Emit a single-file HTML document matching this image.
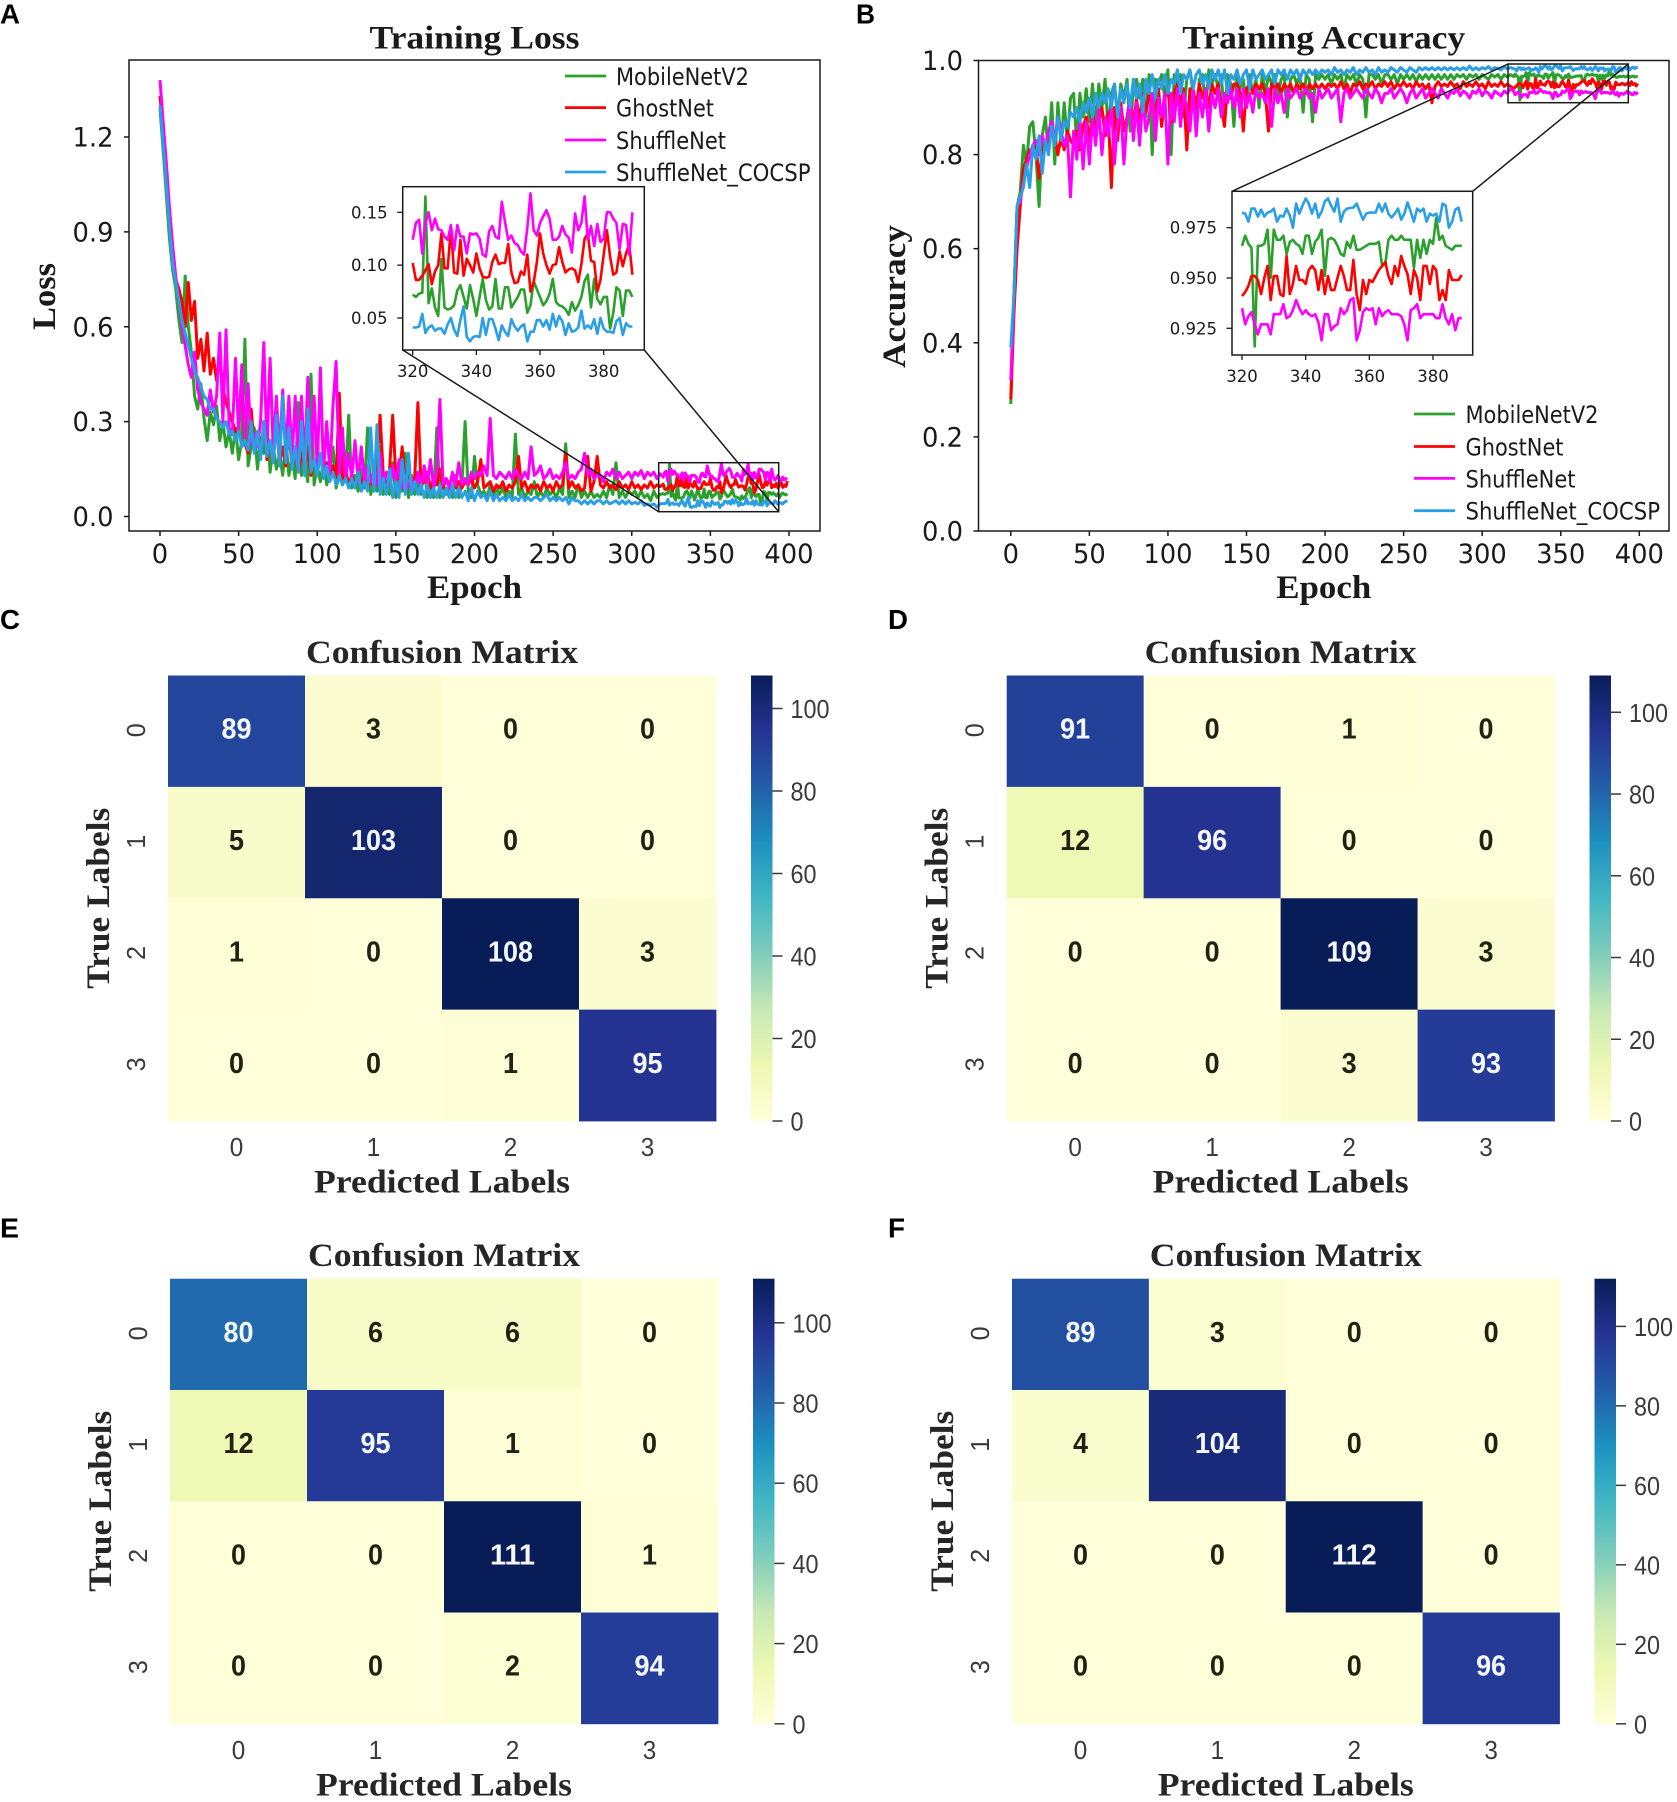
<!DOCTYPE html>
<html lang="en">
<head>
<meta charset="utf-8">
<title>Training curves and confusion matrices</title>
<style>
html,body{margin:0;padding:0;background:#fff}
svg{display:block}
</style>
</head>
<body>
<svg id="figure" xmlns="http://www.w3.org/2000/svg" width="1677" height="1802" viewBox="0 0 1677 1802">
<defs><linearGradient id="ylgnbu" x1="0" y1="1" x2="0" y2="0"></linearGradient></defs>
<rect x="0" y="0" width="1677" height="1802" fill="#fff"/>
</svg>
<script>
const seriesNames = ['MobileNetV2','GhostNet','ShuffleNet','ShuffleNet_COCSP'];
const seriesColors = ['#2ca02c','#ff0000','#ff00ff','#2b9fe6'];
const epochs = [];
for (let i = 0; i < 160; i++) epochs.push(i * 2);
for (let e = 320; e < 400; e++) epochs.push(e);

const epochTicks = [0,50,100,150,200,250,300,350,400];
const lossTicks = ['0.0','0.3','0.6','0.9','1.2'];
const accTicks = ['0.0','0.2','0.4','0.6','0.8','1.0'];
const insetEpochTicks = [320,340,360,380];
const lossInsetTicks = ['0.05','0.10','0.15'];
const accInsetTicks = ['0.925','0.950','0.975'];

const lossGreen = [
1.29,1.16,1.02,.88,.78,.72,.62,.55,.76,.6,.52,.38,.34,.42,.31,.24,.33,.29,.35,.24,
.3,.22,.27,.2,.28,.18,.24,.56,.16,.22,.28,.15,.25,.2,.3,.14,.22,.15,.2,.13,
.24,.13,.19,.12,.36,.13,.17,.11,.45,.1,.16,.11,.18,.1,.14,.22,.09,.13,.1,.12,
.32,.09,.13,.08,.15,.09,.28,.07,.12,.08,.22,.07,.11,.07,.17,.06,.14,.08,.2,.06,
.13,.07,.11,.07,.16,.06,.1,.06,.28,.06,.1,.07,.09,.06,.13,.06,.1,.3,.08,.06,
.19,.1,.07,.08,.06,.1,.06,.09,.07,.09,.06,.08,.06,.26,.07,.09,.06,.08,.07,.11,
.06,.08,.06,.09,.07,.08,.06,.09,.07,.23,.06,.08,.06,.1,.06,.08,.06,.08,.06,.07,
.06,.08,.06,.1,.07,.17,.06,.08,.06,.08,.07,.08,.06,.08,.06,.07,.05,.08,.06,.07,
.072,.07,.073,.074,.165,.064,.078,.06,.052,.106,.06,.058,.059,.062,.076,.081,.07,.059,.081,.068,
.052,.07,.087,.067,.058,.061,.087,.059,.059,.079,.079,.06,.065,.07,.077,.077,.055,.062,.085,.077,
.07,.062,.066,.073,.087,.065,.062,.061,.058,.053,.065,.057,.062,.07,.085,.091,.06,.087,.068,.063,
.07,.07,.04,.055,.079,.076,.052,.076,.076,.07,.075,.07,.065,.072,.06,.07,.074,.07,.068,.072];

const lossRed = [
1.33,1.22,1.1,.97,.85,.75,.72,.68,.6,.74,.62,.68,.5,.56,.46,.58,.45,.5,.43,.5,
.41,.36,.33,.3,.27,.26,.45,.23,.2,.34,.22,.26,.19,.3,.18,.24,.17,.3,.17,.22,
.16,.27,.15,.2,.14,.2,.15,.22,.13,.18,.14,.2,.13,.17,.12,.16,.11,.39,.11,.15,
.1,.13,.1,.12,.1,.14,.09,.12,.09,.16,.32,.13,.09,.15,.32,.12,.12,.22,.1,.15,
.09,.12,.36,.1,.11,.14,.09,.12,.1,.15,.09,.12,.1,.13,.09,.11,.09,.11,.1,.12,
.09,.11,.18,.09,.1,.11,.08,.1,.09,.11,.08,.1,.09,.11,.19,.09,.11,.08,.1,.09,
.1,.08,.11,.09,.1,.08,.11,.09,.1,.2,.09,.11,.09,.1,.08,.09,.19,.08,.11,.19,
.1,.09,.11,.09,.1,.085,.11,.09,.1,.085,.11,.09,.1,.085,.1,.09,.11,.09,.1,.095,
.102,.086,.086,.09,.095,.101,.082,.094,.1,.13,.097,.097,.135,.093,.092,.124,.09,.106,.1,.093,
.111,.097,.089,.088,.089,.103,.11,.101,.102,.102,.12,.093,.083,.084,.094,.091,.11,.075,.084,.103,
.13,.111,.1,.092,.1,.101,.117,.103,.093,.096,.097,.095,.084,.101,.125,.13,.104,.103,.075,.086,
.11,.133,.108,.091,.093,.113,.099,.111,.12,.091,.1,.095,.105,.09,.1,.11,.092,.1,.095,.112];

const lossMagenta = [
1.38,1.25,1.12,.98,.86,.76,.68,.6,.54,.48,.44,.52,.4,.36,.34,.32,.4,.33,.38,.58,
.3,.59,.28,.26,.5,.26,.48,.24,.42,.23,.26,.22,.3,.55,.22,.5,.21,.38,.2,.4,
.2,.38,.18,.38,.17,.38,.16,.44,.16,.38,.15,.47,.14,.3,.14,.35,.49,.13,.28,.12,
.2,.12,.24,.11,.22,.11,.16,.11,.15,.1,.2,.1,.14,.1,.16,.1,.18,.09,.13,.09,
.12,.09,.14,.09,.16,.1,.18,.09,.14,.37,.1,.12,.09,.14,.1,.17,.1,.12,.1,.14,
.12,.14,.13,.16,.13,.31,.13,.12,.14,.13,.12,.14,.12,.15,.13,.12,.14,.12,.22,.13,
.14,.16,.12,.13,.15,.12,.13,.12,.14,.17,.12,.13,.12,.14,.15,.2,.13,.15,.12,.13,
.13,.11,.14,.13,.15,.12,.14,.12,.13,.14,.12,.14,.13,.145,.12,.14,.13,.14,.12,.135,
.124,.14,.143,.111,.14,.15,.133,.144,.134,.133,.127,.124,.138,.114,.138,.127,.127,.111,.13,.129,
.13,.125,.11,.108,.132,.137,.127,.125,.16,.141,.124,.128,.121,.119,.113,.11,.135,.168,.133,.128,
.14,.146,.152,.144,.124,.124,.127,.137,.129,.126,.112,.149,.133,.14,.165,.124,.137,.118,.139,.122,
.125,.15,.15,.144,.14,.115,.139,.138,.11,.15,.125,.115,.12,.13,.118,.112,.125,.115,.12,.118];

const lossBlue = [
1.3,1.18,1.05,.92,.8,.74,.68,.62,.58,.54,.5,.46,.44,.41,.38,.37,.34,.34,.31,.3,
.28,.3,.26,.27,.24,.27,.22,.24,.21,.3,.2,.27,.18,.3,.19,.24,.17,.32,.16,.38,
.17,.28,.15,.22,.14,.3,.13,.34,.14,.18,.13,.2,.12,.16,.11,.14,.1,.13,.1,.12,
.09,.12,.09,.14,.08,.11,.08,.28,.08,.29,.07,.12,.07,.15,.06,.11,.06,.18,.07,.2,
.07,.11,.07,.1,.06,.1,.06,.09,.06,.1,.06,.09,.06,.1,.06,.09,.06,.08,.05,.09,
.05,.08,.06,.07,.05,.08,.05,.07,.05,.06,.05,.07,.05,.06,.05,.07,.05,.06,.05,.06,
.06,.05,.06,.07,.05,.06,.05,.06,.05,.06,.04,.06,.05,.05,.04,.05,.04,.05,.04,.05,
.05,.04,.05,.04,.045,.05,.04,.05,.04,.05,.04,.045,.04,.05,.035,.04,.035,.04,.03,.04,
.041,.041,.042,.054,.036,.041,.043,.038,.04,.04,.035,.044,.05,.039,.033,.048,.061,.032,.028,.032,
.033,.032,.05,.034,.049,.049,.04,.029,.043,.037,.033,.049,.042,.038,.042,.044,.028,.037,.037,.048,
.048,.042,.048,.039,.054,.042,.052,.047,.034,.045,.037,.038,.041,.057,.04,.043,.04,.049,.035,.05,
.04,.037,.037,.036,.047,.05,.034,.045,.042,.042,.04,.05,.045,.038,.042,.043,.04,.045,.048,.05];

const accGreen = [
.27,.5,.69,.72,.82,.78,.86,.87,.8,.69,.84,.88,.8,.91,.78,.91,.82,.91,.83,.92,
.93,.82,.93,.88,.94,.87,.95,.86,.95,.9,.96,.85,.93,.95,.88,.95,.92,.96,.85,.94,
.96,.92,.96,.88,.97,.8,.96,.95,.97,.92,.98,.8,.97,.95,.97,.88,.96,.98,.93,.85,
.96,.97,.9,.98,.95,.97,.94,.97,.87,.97,.95,.86,.97,.94,.96,.9,.97,.93,.96,.9,
.97,.93,.97,.95,.97,.92,.96,.97,.88,.96,.97,.95,.97,.89,.97,.96,.87,.97,.96,.97,
.96,.97,.95,.97,.96,.97,.94,.97,.96,.97,.95,.97,.96,.88,.97,.97,.96,.97,.95,.97,
.97,.96,.97,.95,.97,.96,.97,.96,.97,.955,.97,.96,.97,.96,.97,.96,.97,.96,.97,.96,
.97,.96,.97,.965,.97,.96,.97,.965,.97,.96,.97,.965,.96,.97,.965,.97,.96,.97,.965,.97,
.966,.971,.967,.965,.916,.966,.966,.967,.974,.95,.974,.969,.969,.971,.962,.968,.969,.967,.966,.962,
.971,.971,.962,.968,.97,.974,.951,.969,.97,.969,.966,.962,.961,.968,.965,.971,.964,.964,.965,.966,
.967,.967,.967,.968,.956,.957,.969,.971,.969,.969,.971,.969,.969,.969,.955,.969,.96,.969,.962,.969,
.967,.98,.969,.971,.966,.965,.964,.966,.966,.966,.967,.965,.966,.968,.964,.966,.967,.965,.966,.965];

const accRed = [
.28,.46,.6,.69,.77,.79,.81,.8,.82,.75,.8,.83,.82,.86,.84,.8,.84,.81,.85,.83,
.82,.85,.81,.86,.88,.83,.89,.85,.87,.9,.84,.89,.73,.9,.83,.91,.85,.88,.92,.86,
.92,.87,.93,.89,.93,.9,.88,.94,.86,.92,.94,.87,.93,.95,.9,.94,.81,.94,.94,.9,
.95,.92,.94,.9,.95,.93,.95,.9,.86,.95,.92,.95,.95,.93,.85,.94,.95,.93,.95,.94,
.95,.93,.85,.95,.94,.95,.93,.95,.94,.95,.93,.95,.94,.95,.93,.95,.94,.95,.94,.95,
.94,.95,.945,.95,.94,.955,.94,.95,.93,.95,.945,.955,.94,.95,.945,.955,.94,.95,.945,.955,
.945,.955,.94,.95,.945,.955,.945,.95,.94,.955,.945,.95,.94,.95,.91,.945,.955,.945,.95,.945,
.955,.945,.95,.94,.955,.945,.95,.945,.955,.945,.95,.94,.955,.945,.95,.945,.955,.945,.95,.945,
.941,.943,.946,.951,.951,.949,.942,.95,.956,.939,.951,.951,.942,.941,.961,.942,.947,.956,.949,.949,
.947,.954,.956,.954,.944,.954,.942,.951,.944,.944,.95,.956,.951,.944,.944,.959,.942,.934,.949,.942,
.949,.948,.951,.954,.956,.958,.951,.947,.956,.951,.961,.956,.952,.942,.954,.95,.939,.956,.956,.947,
.956,.954,.939,.944,.939,.954,.949,.949,.949,.9515,.95,.948,.951,.953,.947,.955,.949,.951,.946,.951];

const accMagenta = [
.32,.5,.69,.7,.74,.77,.8,.82,.83,.8,.84,.82,.85,.87,.83,.88,.85,.82,.84,.71,
.85,.79,.88,.77,.87,.78,.88,.82,.9,.8,.88,.84,.91,.78,.87,.9,.78,.88,.92,.83,
.91,.82,.92,.85,.88,.93,.83,.92,.88,.93,.78,.93,.87,.94,.86,.93,.9,.85,.94,.84,
.93,.88,.94,.85,.93,.9,.94,.88,.93,.91,.94,.9,.94,.88,.94,.9,.93,.89,.94,.92,
.93,.91,.94,.86,.94,.91,.93,.89,.94,.92,.93,.94,.92,.93,.94,.92,.93,.89,.94,.92,
.93,.94,.92,.93,.94,.87,.93,.94,.92,.93,.94,.93,.92,.94,.93,.92,.94,.93,.91,.93,
.93,.94,.92,.93,.94,.93,.91,.93,.94,.92,.93,.94,.92,.93,.94,.93,.92,.94,.93,.92,
.935,.93,.94,.925,.935,.93,.92,.935,.93,.94,.925,.935,.93,.92,.935,.93,.925,.935,.93,.94,
.935,.927,.931,.933,.927,.922,.927,.927,.927,.922,.932,.932,.932,.937,.93,.931,.934,.939,.935,.932,
.934,.932,.931,.932,.928,.919,.932,.932,.924,.926,.927,.935,.932,.934,.939,.94,.919,.924,.933,.935,
.934,.935,.927,.935,.931,.933,.934,.932,.932,.932,.931,.927,.919,.934,.935,.937,.93,.932,.932,.932,
.932,.93,.93,.937,.93,.927,.932,.924,.93,.93,.928,.931,.934,.93,.932,.928,.927,.932,.929,.933];

const accBlue = [
.39,.5,.69,.71,.73,.78,.73,.82,.79,.84,.76,.83,.8,.86,.82,.88,.83,.87,.86,.89,
.88,.9,.87,.91,.89,.92,.88,.93,.9,.93,.91,.94,.9,.95,.88,.94,.91,.95,.9,.96,
.92,.95,.89,.96,.93,.97,.92,.96,.94,.97,.93,.96,.95,.98,.93,.97,.96,.98,.94,.97,
.98,.95,.97,.94,.98,.96,.98,.95,.98,.93,.97,.96,.98,.95,.97,.98,.94,.98,.96,.97,
.98,.96,.97,.98,.95,.98,.97,.98,.96,.98,.97,.98,.96,.98,.97,.98,.97,.98,.97,.98,
.975,.98,.97,.985,.975,.98,.97,.98,.975,.985,.97,.98,.975,.985,.975,.98,.97,.985,.975,.98,
.975,.985,.98,.975,.985,.98,.975,.985,.98,.975,.985,.98,.985,.98,.985,.98,.985,.98,.985,.98,
.985,.98,.985,.98,.985,.98,.988,.98,.985,.98,.985,.982,.987,.98,.985,.983,.98,.987,.982,.985,
.9825,.982,.978,.9845,.9845,.9805,.984,.9805,.9825,.983,.9845,.978,.981,.9805,.9845,.981,.975,.987,.982,.986,
.9895,.987,.982,.987,.98,.983,.988,.9895,.986,.983,.9895,.978,.983,.9845,.9848,.985,.987,.983,.979,.982,
.9825,.9825,.9825,.987,.983,.987,.982,.98,.982,.9845,.979,.982,.9875,.983,.978,.9845,.983,.9845,.978,.982,
.981,.982,.978,.987,.986,.975,.978,.984,.985,.978,.983,.985,.982,.986,.98,.984,.986,.983,.985,.986];

const matrixC = [[89,3,0,0],[5,103,0,0],[1,0,108,3],[0,0,1,95]];
const matrixD = [[91,0,1,0],[12,96,0,0],[0,0,109,3],[0,0,3,93]];
const matrixE = [[80,6,6,0],[12,95,1,0],[0,0,111,1],[0,0,2,94]];
const matrixF = [[89,3,0,0],[4,104,0,0],[0,0,112,0],[0,0,0,96]];
const classLabels = ['0','1','2','3'];
const colorbarTicks = [0,20,40,60,80,100];

const ylgnbu = ['#ffffd9','#edf8b1','#c7e9b4','#7fcdbb','#41b6c4','#1d91c0','#225ea8','#253494','#081d58'];

const NS = 'http://www.w3.org/2000/svg';
const root = document.getElementById('figure');
const SERIF = '"Liberation Serif", serif';
const DEJAVU = '"DejaVu Sans", sans-serif';
const ARIAL = '"Liberation Sans", sans-serif';
const INK = '#1a1a1a';

function shape(parent, tag, attrs, name) {
  const el = document.createElementNS(NS, tag);
  for (const k in attrs) el.setAttribute(k, attrs[k]);
  
  
  parent.appendChild(el);
  return el;
}
function group(parent, name) {
  return shape(parent, 'g', {}, name);
}
function label(parent, str, x, y, size, o, name) {
  const a = {x: x, y: y, 'font-size': size, 'font-family': o.family, 'text-anchor': o.anchor || 'middle', fill: o.fill || INK};
  if (o.weight) a['font-weight'] = o.weight;
  if (o.len) { a.textLength = o.len; a.lengthAdjust = 'spacingAndGlyphs'; }
  if (o.rot) a.transform = 'rotate(' + o.rot + ' ' + x + ' ' + y + ')';
  const t = shape(parent, 'text', a, name);
  t.textContent = str;
  return t;
}
function linear(d0, d1, p0, p1) {
  return function (v) { return p0 + (v - d0) * (p1 - p0) / (d1 - d0); };
}
function textLen(str, digit, dot) {
  let w = 0;
  for (const c of String(str)) w += (c === '.' ? dot : digit);
  return w;
}
function seg(parent, x1, y1, x2, y2, name, w) {
  return shape(parent, 'line', {x1: x1, y1: y1, x2: x2, y2: y2, stroke: INK, 'stroke-width': w || 1.5}, name);
}
function polyline(parent, xs, ys, xScale, yScale, color, width, name) {
  const pts = xs.map(function (x, i) { return xScale(x).toFixed(1) + ',' + yScale(ys[i]).toFixed(1); }).join(' ');
  return shape(parent, 'polyline', {points: pts, fill: 'none', stroke: color, 'stroke-width': width, 'stroke-linejoin': 'round'}, name);
}

function drawLinePanel(c) {
  const g = group(root, c.id + '-panel');
  const x = linear(0, 400, c.x0, c.x400);
  const y = linear(c.yRef[0], c.yRef[1], c.yPx[0], c.yPx[1]);

  label(g, c.title, (c.left + c.right) / 2, 48.6, 33, {family: SERIF, weight: 'bold', len: c.titleLen}, c.id + '-title');
  label(g, 'Epoch', (c.left + c.right) / 2, 598, 33, {family: SERIF, weight: 'bold', len: 95}, c.id + '-x-axis-title');
  label(g, c.ylabel, c.ylabelX, 296.5, 33, {family: SERIF, weight: 'bold', len: c.ylabelLen, rot: -90}, c.id + '-y-axis-title');

  epochTicks.forEach(function (t) {
    seg(g, x(t), c.bottom, x(t), c.bottom + 5, c.id + '-x-tick');
    label(g, String(t), x(t), 563, 27, {family: DEJAVU, len: textLen(t, 16.4, 8.2)}, c.id + '-x-tick-label');
  });
  c.yTicks.forEach(function (t) {
    seg(g, c.left - 5, y(+t), c.left, y(+t), c.id + '-y-tick');
    label(g, t, c.left - 15.5, y(+t) + 9.5, 27, {family: DEJAVU, anchor: 'end', len: textLen(t, 16.4, 8.2)}, c.id + '-y-tick-label');
  });

  c.series.forEach(function (s, i) {
    polyline(g, epochs, s, x, y, seriesColors[i], 3, c.id + '-line-' + seriesNames[i].toLowerCase());
  });

  shape(g, 'rect', {x: c.left, y: c.top, width: c.right - c.left, height: c.bottom - c.top, fill: 'none', stroke: INK, 'stroke-width': 1.5}, c.id + '-plot-frame');

  const z = c.zoomBox;
  shape(g, 'rect', {x: z.x0, y: z.y0, width: z.x1 - z.x0, height: z.y1 - z.y0, fill: 'none', stroke: INK, 'stroke-width': 1.5}, c.id + '-zoom-box');
  const ins = c.inset;
  const zy = c.connectFromBottom ? z.y1 : z.y0;
  const iy = c.connectFromBottom ? ins.bottom : ins.top;
  seg(g, z.x0, zy, ins.left, iy, c.id + '-connector-left');
  seg(g, z.x1, zy, ins.right, iy, c.id + '-connector-right');

  const ig = group(g, c.id + '-inset');
  shape(ig, 'rect', {x: ins.left, y: ins.top, width: ins.right - ins.left, height: ins.bottom - ins.top, fill: '#fff', stroke: INK, 'stroke-width': 1.5}, c.id + '-inset-frame');
  const ix = linear(320, 380, ins.x320, ins.x380);
  const iyS = linear(ins.yRef[0], ins.yRef[1], ins.yPx[0], ins.yPx[1]);
  const keep = [];
  epochs.forEach(function (e, i) { if (e >= 320 && e <= 389) keep.push(i); });
  const iEpochs = keep.map(function (i) { return epochs[i]; });
  c.series.forEach(function (s, i) {
    polyline(ig, iEpochs, keep.map(function (k) { return s[k]; }), ix, iyS, seriesColors[i], 2.6, c.id + '-inset-line-' + seriesNames[i].toLowerCase());
  });
  insetEpochTicks.forEach(function (t) {
    seg(ig, ix(t), ins.bottom, ix(t), ins.bottom + 5, c.id + '-inset-x-tick', 1.3);
    label(ig, String(t), ix(t), ins.bottom + 27, 16.5, {family: DEJAVU}, c.id + '-inset-x-tick-label');
  });
  c.insetTicks.forEach(function (t) {
    seg(ig, ins.left - 5.5, iyS(+t), ins.left, iyS(+t), c.id + '-inset-y-tick', 1.3);
    label(ig, t, ins.left - 15, iyS(+t) + 6, 16.5, {family: DEJAVU, anchor: 'end'}, c.id + '-inset-y-tick-label');
  });

  const lg = group(g, c.id + '-legend');
  seriesNames.forEach(function (n, i) {
    const ey = c.legend.rows[i];
    seg(lg, c.legend.x0, ey, c.legend.x1, ey, c.id + '-legend-line-' + n.toLowerCase(), 2.8).setAttribute('stroke', seriesColors[i]);
    label(lg, n, c.legend.tx, ey + 9, 24, {family: DEJAVU, anchor: 'start', len: c.legend.lens[i]}, c.id + '-legend-entry-' + n.toLowerCase());
  });
}

function cmapColor(t) {
  const u = Math.max(0, Math.min(1, t)) * (ylgnbu.length - 1);
  const i = Math.min(Math.floor(u), ylgnbu.length - 2);
  const f = u - i;
  const a = ylgnbu[i], b = ylgnbu[i + 1];
  const ch = function (h, p) { return parseInt(h.substr(p, 2), 16); };
  return 'rgb(' + [1, 3, 5].map(function (p) { return Math.round(ch(a, p) + (ch(b, p) - ch(a, p)) * f); }).join(',') + ')';
}

function drawHeatmap(c) {
  const g = group(root, c.id + '-panel');
  const m = c.matrix;
  const vmax = Math.max.apply(null, m.map(function (r) { return Math.max.apply(null, r); }));
  const cols = linear(0, classLabels.length, c.left, c.right);
  const rows = linear(0, classLabels.length, c.top, c.bottom);

  m.forEach(function (r, ri) {
    r.forEach(function (v, ci) {
      const t = v / vmax;
      shape(g, 'rect', {x: cols(ci), y: rows(ri), width: cols(ci + 1) - cols(ci) + 0.4, height: rows(ri + 1) - rows(ri) + 0.4, fill: cmapColor(t)}, c.id + '-cell-' + ri + '-' + ci);
    });
  });
  m.forEach(function (r, ri) {
    r.forEach(function (v, ci) {
      const t = v / vmax;
      const s = String(v);
      label(g, s, cols(ci + 0.5), rows(ri + 0.5) + 7.5, 29, {family: ARIAL, weight: 'bold', fill: t > 0.5 ? '#f5f8fa' : '#222214', len: s.length * 15}, c.id + '-cell-value');
    });
  });

  classLabels.forEach(function (s, i) {
    label(g, s, cols(i + 0.5), c.bottom + 35, 26, {family: ARIAL, fill: '#3a3a3a', len: 13.5}, c.id + '-x-tick-label');
    label(g, s, c.left - 23, rows(i + 0.5) - 1, 26, {family: ARIAL, fill: '#3a3a3a', rot: -90, len: 14}, c.id + '-y-tick-label');
  });

  const cx = (c.left + c.right) / 2;
  label(g, 'Confusion Matrix', cx, c.top - 12.5, 33, {family: SERIF, weight: 'bold', fill: '#262626', len: 272}, c.id + '-title');
  label(g, 'Predicted Labels', cx, c.top + 517, 33, {family: SERIF, weight: 'bold', fill: '#262626', len: 256}, c.id + '-x-axis-title');
  label(g, 'True Labels', c.left - 59, (c.top + c.bottom) / 2, 33, {family: SERIF, weight: 'bold', fill: '#262626', rot: -90, len: 181}, c.id + '-y-axis-title');

  const bx = c.right + 35, bw = 21.5;
  const cb = group(g, c.id + '-colorbar');
  shape(cb, 'rect', {x: bx, y: c.top, width: bw, height: c.bottom - c.top, fill: 'url(#ylgnbu)'}, c.id + '-colorbar-gradient');
  const cy = linear(0, vmax, c.bottom, c.top);
  colorbarTicks.forEach(function (t) {
    if (t > vmax) return;
    seg(cb, bx + bw, cy(t), bx + bw + 10, cy(t), c.id + '-colorbar-tick').setAttribute('stroke', '#3a3a3a');
    const s = String(t);
    label(cb, s, bx + bw + 18, cy(t) + 9.5, 26, {family: ARIAL, anchor: 'start', fill: '#3a3a3a', len: s.length * 13}, c.id + '-colorbar-tick-label');
  });
}

const gradient = document.getElementById('ylgnbu');
ylgnbu.forEach(function (col, i) {
  const st = document.createElementNS(NS, 'stop');
  st.setAttribute('offset', (i / (ylgnbu.length - 1)));
  st.setAttribute('stop-color', col);
  gradient.appendChild(st);
});

const legendLens = [133, 98, 110, 194.5];

drawLinePanel({
  id: 'training-loss', title: 'Training Loss', titleLen: 210, ylabel: 'Loss', ylabelLen: 67, ylabelX: 55,
  left: 129, right: 820, top: 60, bottom: 531, x0: 160, x400: 789,
  yRef: [0, 1.2], yPx: [516.5, 137], yTicks: lossTicks,
  series: [lossGreen, lossRed, lossMagenta, lossBlue],
  zoomBox: {x0: 658.7, x1: 778.7, y0: 462.7, y1: 511.7}, connectFromBottom: true,
  inset: {left: 402.7, right: 644.3, top: 186.7, bottom: 350, x320: 412.7, x380: 603.7, yRef: [0.05, 0.15], yPx: [318, 212.3]},
  insetTicks: lossInsetTicks,
  legend: {x0: 565, x1: 606, tx: 616, rows: [76, 107.6, 140, 172], lens: legendLens}
});

drawLinePanel({
  id: 'training-accuracy', title: 'Training Accuracy', titleLen: 283, ylabel: 'Accuracy', ylabelLen: 143, ylabelX: 905,
  left: 978.5, right: 1669, top: 60.5, bottom: 531, x0: 1010.8, x400: 1639.3,
  yRef: [0, 1], yPx: [531, 60.5], yTicks: accTicks,
  series: [accGreen, accRed, accMagenta, accBlue],
  zoomBox: {x0: 1508, x1: 1628.3, y0: 64, y1: 102.7}, connectFromBottom: false,
  inset: {left: 1232, right: 1472.7, top: 191.3, bottom: 355, x320: 1242, x380: 1433, yRef: [0.925, 0.975], yPx: [328.3, 227.7]},
  insetTicks: accInsetTicks,
  legend: {x0: 1414, x1: 1455, tx: 1465.5, rows: [414, 446.5, 478.4, 510.7], lens: legendLens}
});

drawHeatmap({id: 'confusion-matrix-c', matrix: matrixC, left: 168, right: 716, top: 675.5, bottom: 1121});
drawHeatmap({id: 'confusion-matrix-d', matrix: matrixD, left: 1006.7, right: 1554.5, top: 675.5, bottom: 1121});
drawHeatmap({id: 'confusion-matrix-e', matrix: matrixE, left: 170, right: 718, top: 1278.7, bottom: 1723.8});
drawHeatmap({id: 'confusion-matrix-f', matrix: matrixF, left: 1012, right: 1559.5, top: 1278.7, bottom: 1723.8});

const letters = group(root, 'panel-letters');
label(letters, 'A', 0, 23.5, 28, {family: ARIAL, weight: 'bold', anchor: 'start', fill: '#000', len: 20}, 'panel-letter-a');
label(letters, 'B', 856, 23.5, 28, {family: ARIAL, weight: 'bold', anchor: 'start', fill: '#000', len: 19}, 'panel-letter-b');
label(letters, 'C', 0, 629, 28, {family: ARIAL, weight: 'bold', anchor: 'start', fill: '#000', len: 20}, 'panel-letter-c');
label(letters, 'D', 888, 629, 28, {family: ARIAL, weight: 'bold', anchor: 'start', fill: '#000', len: 20}, 'panel-letter-d');
label(letters, 'E', 0, 1237.5, 28, {family: ARIAL, weight: 'bold', anchor: 'start', fill: '#000', len: 19}, 'panel-letter-e');
label(letters, 'F', 888, 1237.5, 28, {family: ARIAL, weight: 'bold', anchor: 'start', fill: '#000', len: 17}, 'panel-letter-f');
</script>
</body>
</html>
